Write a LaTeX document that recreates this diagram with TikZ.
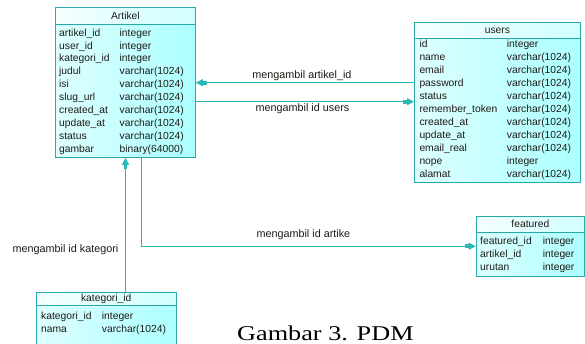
\documentclass[tikz,border=0pt]{standalone}
\usepackage{fontspec}
\setmainfont{Liberation Sans}
\newfontfamily\capfont{Liberation Serif}
\usetikzlibrary{arrows.meta,calc}

\definecolor{tblborder}{RGB}{40,168,168}
\definecolor{linkcol}{RGB}{40,184,184}
\definecolor{bodyL}{RGB}{222,255,255}
\definecolor{bodyR}{RGB}{172,255,255}
\definecolor{headL}{RGB}{244,255,255}
\definecolor{headR}{RGB}{208,255,255}
\definecolor{txt}{RGB}{30,26,22}

\tikzset{
  tblbody/.style={draw=tblborder, line width=0.8pt, left color=bodyL, right color=bodyR,
    inner sep=0pt, anchor=north west},
  tblhead/.style={draw=tblborder, line width=0.8pt, left color=headL, right color=headR,
    inner sep=0pt, anchor=north west, font=\fontsize{10.3}{12}\selectfont, text=txt},
  fld/.style={anchor=west, inner sep=0pt, text height=7.4pt, text depth=2.2pt,
    font=\fontsize{10.3}{12}\selectfont, text=txt},
  lbl/.style={inner sep=0pt, text height=7.6pt, text depth=2.2pt,
    font=\fontsize{10.8}{12}\selectfont, text=txt},
  link/.style={draw=linkcol, line width=0.9pt},
  reftip/.style={-{Rectangle[length=4pt,width=3.6pt]Triangle[length=7pt,width=7pt]}},
}

\begin{document}
\begin{tikzpicture}[x=1pt, y=-1pt]
\clip (0,0) rectangle (585,344);
\fill[white] (0,0) rectangle (585,344);

% ---------- table Artikel ----------
\node[tblbody, minimum width=140pt, minimum height=150pt] (artikel) at (55,7) {};
\node[tblhead, minimum width=140pt, minimum height=17pt] (artikelH) at (55,7) {Artikel};
\foreach \n/\t [count=\k from 0] in {artikel\_id/integer, user\_id/integer, kategori\_id/integer,
    judul/varchar(1024), isi/varchar(1024), slug\_url/varchar(1024), created\_at/varchar(1024),
    update\_at/varchar(1024), status/varchar(1024), gambar/binary(64000)} {
  \node[fld] (artN\k) at (59, 33.5+12.95*\k) {\n};
  \node[fld] (artT\k) at (119.5, 33.5+12.95*\k) {\t};
}

% ---------- table users ----------
\node[tblbody, minimum width=166pt, minimum height=160pt] (users) at (414,22) {};
\node[tblhead, minimum width=166pt, minimum height=16pt] (usersH) at (414,22) {users};
\foreach \n/\t [count=\k from 0] in {id/integer, name/varchar(1024), email/varchar(1024),
    password/varchar(1024), status/varchar(1024), remember\_token/varchar(1024),
    created\_at/varchar(1024), update\_at/varchar(1024), email\_real/varchar(1024),
    nope/integer, alamat/varchar(1024)} {
  \node[fld] (usrN\k) at (419.3, 45+13*\k) {\n};
  \node[fld] (usrT\k) at (506.7, 45+13*\k) {\t};
}

% ---------- table featured ----------
\node[tblbody, minimum width=108.5pt, minimum height=60.3pt] (featured) at (475.7,215.7) {};
\node[tblhead, minimum width=108.5pt, minimum height=16pt] (featuredH) at (475.7,215.7) {featured};
\foreach \n/\t [count=\k from 0] in {featured\_id/integer, artikel\_id/integer, urutan/integer} {
  \node[fld] (feaN\k) at (480, 241.6+13*\k) {\n};
  \node[fld] (feaT\k) at (542.7, 241.6+13*\k) {\t};
}

% ---------- table kategori_id ----------
\node[tblbody, minimum width=139.7pt, minimum height=70pt] (kategori) at (36,291.7) {};
\node[tblhead, minimum width=139.7pt, minimum height=13.3pt] (kategoriH) at (36,291.7) {kategori\_id};
\foreach \n/\t [count=\k from 0] in {kategori\_id/integer, nama/varchar(1024)} {
  \node[fld] (katN\k) at (41, 316.7+13.3*\k) {\n};
  \node[fld] (katT\k) at (101.7, 316.7+13.3*\k) {\t};
}

% ---------- references ----------
\coordinate (yA) at (0,82.7);
\coordinate (yU) at (0,101.7);
\coordinate (xK) at (125.5,0);
\coordinate (xF) at (141.3,0);

\draw[link, reftip] (users.west |- yA) -- (artikel.east |- yA);
\node[lbl] (lblA) at (302,75.6) {mengambil artikel\_id};

\draw[link, reftip] (artikel.east |- yU) -- (users.west |- yU);
\node[lbl] (lblU) at (302.5,109.3) {mengambil id users};

\draw[link, reftip] (kategori.north -| xK) -- (artikel.south -| xK);
\node[lbl] (lblK) at (65.5,250) {mengambil id kategori};

\draw[link, reftip] (artikel.south -| xF) |- (featured.west);
\node[lbl] (lblF) at (303.4,235) {mengambil id artike};

% ---------- caption ----------
\node[anchor=base, inner sep=0pt, text=black] (caption) at (325.4,340)
  {\scalebox{1.25}[1]{\capfont\fontsize{21}{21}\selectfont Gambar 3. PDM}};
\end{tikzpicture}
\end{document}
